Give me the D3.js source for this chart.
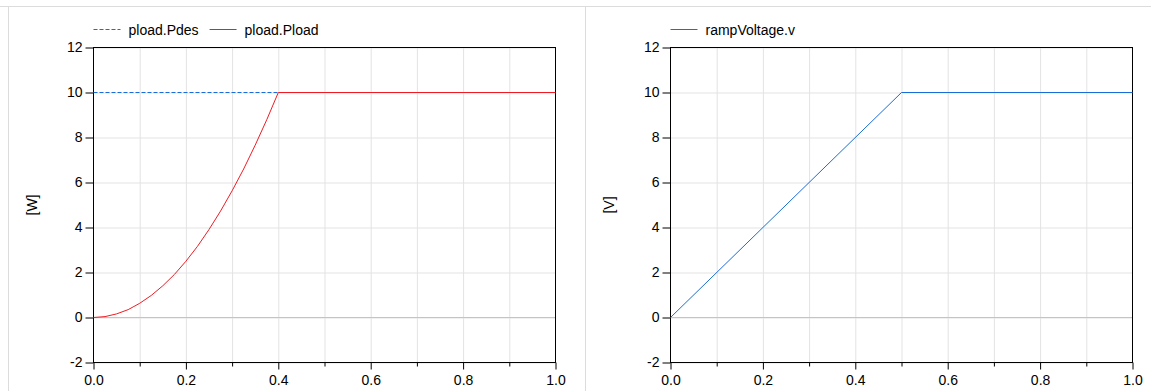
<!DOCTYPE html>
<html>
<head>
<meta charset="utf-8">
<script src="https://cdn.jsdelivr.net/npm/d3@7"></script>
<style>
	body { margin: 0; background: #fff; }
	svg { display: block; font-family: "Liberation Sans", Arial, sans-serif; }
	.grid line { stroke: #e3e3e3; }
	.grid path { display: none; }
	.axis path, .axis line { stroke: #000; }
	.axis text { font-size: 14px; fill: #000; }
</style>
</head>
<body>
<div id="chart"></div>
<script>
//data
var time_pload = [0, 0.025, 0.05, 0.075, 0.1, 0.125, 0.15, 0.175, 0.2, 0.225, 0.25, 0.275, 0.3, 0.325, 0.35, 0.375, 0.4, 1.0];
var pload_Pload = [0, 0.04, 0.16, 0.35, 0.63, 0.98, 1.41, 1.91, 2.5, 3.16, 3.91, 4.73, 5.63, 6.6, 7.66, 8.79, 10, 10];
var time_pdes = [0, 0.4, 1.0];
var pload_Pdes = [10, 10, 10];
var time_ramp = [0, 0.5, 1.0];
var rampVoltage_v = [0, 10, 10];

var xTicks = [0, 0.2, 0.4, 0.6, 0.8, 1.0];
var xMinorTicks = [0.1, 0.3, 0.5, 0.7, 0.9];
var yTicks = [-2, 0, 2, 4, 6, 8, 10, 12];

var BLUE = '#1a6dd6', RED = '#ee1c24';
var W = 1151, H = 391;

var svg = d3.select('#chart').append('svg')
	.attr('width', W)
	.attr('height', H);

//panel separators
svg.append('line').attr('x1', 0).attr('x2', W).attr('y1', 6.5).attr('y2', 6.5).attr('stroke', '#dcdcdc');
svg.append('line').attr('x1', 8.5).attr('x2', 8.5).attr('y1', 6.5).attr('y2', H).attr('stroke', '#dcdcdc');
svg.append('line').attr('x1', 585.5).attr('x2', 585.5).attr('y1', 6.5).attr('y2', H).attr('stroke', '#dcdcdc');

function pairs(xs, ys) {
	return xs.map(function(t, i) { return [t, ys[i]]; });
}

function drawPlot(left, unit, series) {
	var top = 47, graph_w = 462, graph_h = 315;
	var g = svg.append('g')
		.attr('transform', 'translate(' + (left + 0.5) + ',' + (top + 0.5) + ')');

	var x = d3.scaleLinear().domain([0, 1]).range([0, graph_w]);
	var y = d3.scaleLinear().domain([-2, 12]).range([graph_h, 0]);

	// gridlines
	g.append('g').attr('class', 'grid')
		.attr('transform', 'translate(0,' + graph_h + ')')
		.call(d3.axisBottom(x).tickValues(d3.range(1, 10).map(function(d) { return d / 10; }))
			.tickSize(-graph_h).tickFormat(''));
	g.append('g').attr('class', 'grid')
		.call(d3.axisLeft(y).tickValues(yTicks).tickSize(-graph_w).tickFormat(''));
	g.append('line')
		.attr('x1', 0).attr('x2', graph_w)
		.attr('y1', Math.round(y(0))).attr('y2', Math.round(y(0)))
		.attr('stroke', '#c4c4c4');

	// frame
	g.append('rect')
		.attr('width', graph_w).attr('height', graph_h)
		.attr('fill', 'none').attr('stroke', '#000');

	// axes
	g.append('g').attr('class', 'x axis')
		.attr('transform', 'translate(0,' + graph_h + ')')
		.call(d3.axisBottom(x).tickValues(xTicks).tickSize(7).tickPadding(6)
			.tickFormat(function(d) { return d.toFixed(1); }));
	g.append('g').attr('class', 'x axis')
		.attr('transform', 'translate(0,' + graph_h + ')')
		.call(d3.axisBottom(x).tickValues(xMinorTicks).tickSize(4).tickFormat(''));
	g.append('g').attr('class', 'y axis')
		.call(d3.axisLeft(y).tickValues(yTicks).tickSize(8).tickPadding(3)
			.tickFormat(function(d) { return String(d); })); //plain hyphen for -2
	g.selectAll('.axis .domain').remove();

	g.append('text')
		.attr('transform', 'translate(' + (-61) + ',' + (graph_h / 2) + ') rotate(-90)')
		.attr('text-anchor', 'middle')
		.attr('dy', '0.35em')
		.attr('font-size', 14)
		.text(unit);

	var line = d3.line()
		.x(function(d) { return x(d[0]); })
		.y(function(d) { return y(d[1]); });

	var lx = 0;
	series.forEach(function(s) {
		g.append('path')
			.datum(s.data)
			.attr('fill', 'none')
			.attr('stroke', s.color)
			.attr('stroke-width', 1)
			.attr('stroke-dasharray', s.dash || null)
			.attr('d', line);

		// legend
		g.append('line')
			.attr('x1', lx).attr('x2', lx + 27)
			.attr('y1', -18).attr('y2', -18)
			.attr('stroke', s.color)
			.attr('stroke-dasharray', s.dash || null);
		var t = g.append('text')
			.attr('x', lx + 35).attr('y', -13)
			.attr('font-size', 14)
			.text(s.name);
		lx += 35 + t.node().getComputedTextLength() + 11;
	});
}

drawPlot(93, '[W]', [
	{name: 'pload.Pdes', data: pairs(time_pdes, pload_Pdes), color: BLUE, dash: '4,2'},
	{name: 'pload.Pload', data: pairs(time_pload, pload_Pload), color: RED}
]);
drawPlot(670, '[V]', [
	{name: 'rampVoltage.v', data: pairs(time_ramp, rampVoltage_v), color: BLUE}
]);
</script>
</body>
</html>
